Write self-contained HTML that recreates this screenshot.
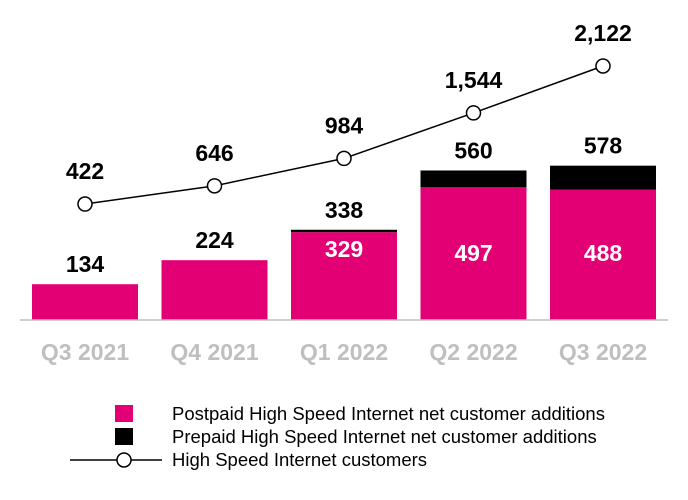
<!DOCTYPE html>
<html><head><meta charset="utf-8"><style>
body{margin:0;background:#fff;}
svg{display:block;font-family:"Liberation Sans",Arial,sans-serif;}
</style></head><body>
<svg id="c" width="688" height="500"></svg>
<script>
const categories=["Q3 2021","Q4 2021","Q1 2022","Q2 2022","Q3 2022"];
const postpaid=[134,224,329,497,488];
const prepaid=[0,0,9,63,90];
const totals=[134,224,338,560,578];
const customers=[422,646,984,1544,2122];
const customerLabels=["422","646","984","1,544","2,122"];

const NS="http://www.w3.org/2000/svg";
const svg=document.getElementById("c");
const baseY=320,barScale=0.267,lineBase=238.3,lineScale=0.0812;
const cx=i=>85+i*129.5;
const yBar=v=>baseY-v*barScale;
const yLine=v=>lineBase-v*lineScale;
function mk(tag,attrs,name,text){const e=document.createElementNS(NS,tag);for(const k in attrs)e.setAttribute(k,attrs[k]);


if(text!==undefined)e.textContent=text;svg.appendChild(e);return e;}
const M="#E20074";
categories.forEach((c,i)=>{
  const x=cx(i)-53,w=106;
  const tp=yBar(postpaid[i]);
  mk("rect",{x:x,y:tp,width:w,height:baseY-tp,fill:M},"bar-postpaid-"+i);
  if(prepaid[i]>0){const tt=yBar(postpaid[i]+prepaid[i]);
    mk("rect",{x:x,y:tt,width:w,height:tp-tt,fill:"#000"},"bar-prepaid-"+i);}
  const top=yBar(totals[i]);
  mk("text",{x:cx(i),y:top-12,"text-anchor":"middle","font-size":23,"font-weight":"bold",fill:"#000"},"bar-total-label-"+i,String(totals[i]));
  if(prepaid[i]>0)mk("text",{x:cx(i),y:Math.min(261,tp+(baseY-tp)/2+8)-(i===2?4:0),"text-anchor":"middle","font-size":23,"font-weight":"bold",fill:"#fff"},"postpaid-label-"+i,String(postpaid[i]));
  mk("text",{x:cx(i),y:360,"text-anchor":"middle","font-size":23,"font-weight":"bold",fill:"#bfbfbf"},"x-label-"+i,c);
});
mk("line",{x1:20,y1:baseY,x2:668,y2:baseY,stroke:"#bfbfbf","stroke-width":1.5},"x-axis");
mk("polyline",{points:customers.map((v,i)=>cx(i)+","+yLine(v)).join(" "),fill:"none",stroke:"#000","stroke-width":1.5},"customers-line");
customers.forEach((v,i)=>{
  mk("circle",{cx:cx(i),cy:yLine(v),r:7,fill:"#fff",stroke:"#000","stroke-width":1.5},"customers-point-"+i);
  mk("text",{x:cx(i),y:yLine(v)-25,"text-anchor":"middle","font-size":23,"font-weight":"bold",fill:"#000"},"customers-label-"+i,customerLabels[i]);
});
mk("rect",{x:115,y:405,width:18,height:17,fill:M},"legend-postpaid-swatch");
mk("text",{x:172,y:420,"font-size":18.5,fill:"#000"},"legend-postpaid","Postpaid High Speed Internet net customer additions");
mk("rect",{x:115,y:428,width:18,height:17,fill:"#000"},"legend-prepaid-swatch");
mk("text",{x:172,y:443,"font-size":18.5,fill:"#000"},"legend-prepaid","Prepaid High Speed Internet net customer additions");
mk("line",{x1:70,y1:460,x2:162,y2:460,stroke:"#000","stroke-width":1.5},"legend-line");
mk("circle",{cx:124,cy:460,r:7,fill:"#fff",stroke:"#000","stroke-width":1.5},"legend-line-marker");
mk("text",{x:172,y:466,"font-size":18.5,fill:"#000"},"legend-customers","High Speed Internet customers");
</script>
</body></html>
